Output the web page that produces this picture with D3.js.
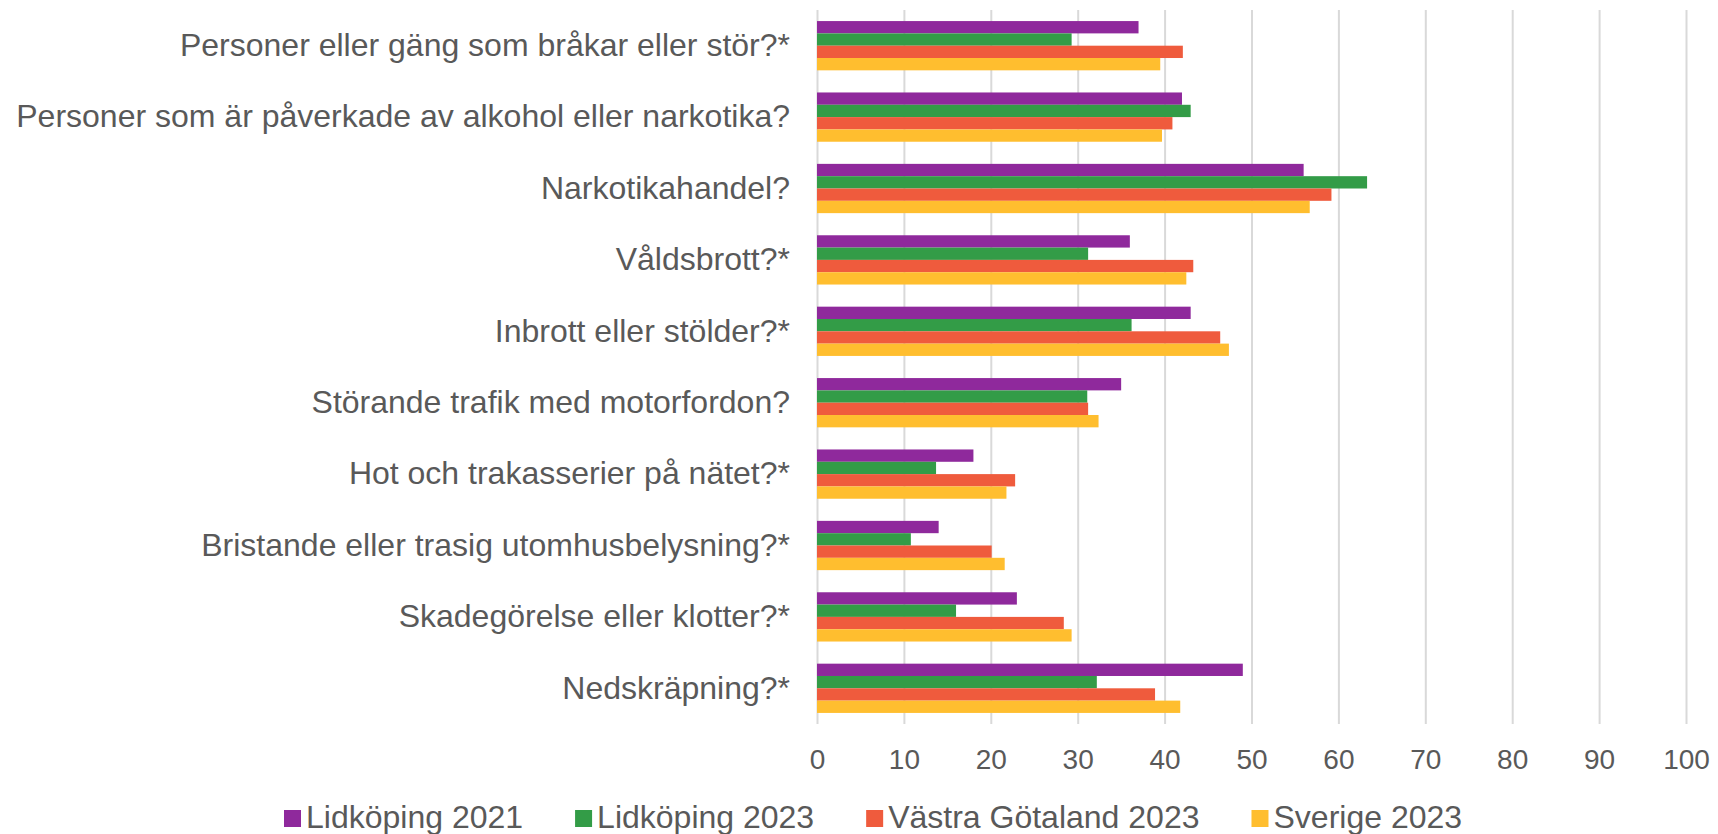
<!DOCTYPE html>
<html>
<head>
<meta charset="utf-8">
<script src="https://cdn.jsdelivr.net/npm/d3@7"></script>
<style>
  body { margin: 0; background: #fff; }
  text { font-family: "Liberation Sans", Arial, sans-serif; fill: #595959; }
</style>
</head>
<body>
<script>
    let categories = [
      "Personer eller gäng som bråkar eller stör?*",
      "Personer som är påverkade av alkohol eller narkotika?",
      "Narkotikahandel?",
      "Våldsbrott?*",
      "Inbrott eller stölder?*",
      "Störande trafik med motorfordon?",
      "Hot och trakasserier på nätet?*",
      "Bristande eller trasig utomhusbelysning?*",
      "Skadegörelse eller klotter?*",
      "Nedskräpning?*"
    ];
    let seriesNames = ["Lidköping 2021", "Lidköping 2023", "Västra Götaland 2023", "Sverige 2023"];
    let lidkoping2021 = [37, 42, 56, 36, 43, 35, 18, 14, 23, 49];
    let lidkoping2023 = [29.3, 43.0, 63.3, 31.2, 36.2, 31.1, 13.7, 10.8, 16.0, 32.2];
    let vastraGotaland2023 = [42.1, 40.9, 59.2, 43.3, 46.4, 31.2, 22.8, 20.1, 28.4, 38.9];
    let sverige2023 = [39.5, 39.7, 56.7, 42.5, 47.4, 32.4, 21.8, 21.6, 29.3, 41.8];
    let xTicks = [0, 10, 20, 30, 40, 50, 60, 70, 80, 90, 100];

    let colors = ["#8f299c", "#339c47", "#ef5b3d", "#ffbe2f"];
    let seriesValues = [lidkoping2021, lidkoping2023, vastraGotaland2023, sverige2023];

    let width = 1718, height = 834;
    let plot = {"left": 817, "right": 1686, "top": 10, "bottom": 724};

    // one row per category, one value per series
    let data = categories.map((c, i) => ({
      category: c,
      values: seriesNames.map((s, j) => ({series: s, value: seriesValues[j][i]}))
    }));

    const svg = d3.select("body")
      .append("svg")
      .attr("width", width)
      .attr("height", height);

    let xscale = d3.scaleLinear()
      .domain([0, 100])
      .range([plot.left, plot.right]);

    let yscale = d3.scaleBand()
      .domain(categories)
      .range([plot.top, plot.bottom])
      .paddingInner(0.31)
      .paddingOuter(0.155);

    let inner = d3.scaleBand()
      .domain(seriesNames)
      .range([0, yscale.bandwidth()]);

    let color = d3.scaleOrdinal()
      .domain(seriesNames)
      .range(colors);

    // x axis with gridlines
    let x_axis = d3.axisBottom()
      .scale(xscale)
      .tickValues(xTicks)
      .tickSize(-(plot.bottom - plot.top))
      .tickPadding(25);

    let gx = svg.append("g")
      .attr("transform", "translate(0," + plot.bottom + ")")
      .call(x_axis);
    gx.select(".domain").remove();
    gx.selectAll(".tick line")
      .attr("stroke", "#d9d9d9")
      .attr("stroke-width", 2);
    gx.selectAll(".tick text")
      .style("font-size", "28px")
      .style("font-family", "Liberation Sans, Arial, sans-serif")
      .attr("fill", "#595959");

    // category labels
    let y_axis = d3.axisLeft()
      .scale(yscale)
      .tickSize(0)
      .tickPadding(27);

    let gy = svg.append("g")
      .attr("transform", "translate(" + plot.left + ",0)")
      .call(y_axis);
    gy.select(".domain").remove();
    gy.selectAll(".tick text")
      .style("font-size", "32px")
      .style("font-family", "Liberation Sans, Arial, sans-serif")
      .attr("fill", "#595959");

    // bars
    let groups = svg.append("g")
      .selectAll("g")
      .data(data)
      .enter()
      .append("g")
      .attr("transform", (d) => "translate(0," + yscale(d.category) + ")");

    groups.selectAll("rect")
      .data((d) => d.values)
      .enter()
      .append("rect")
      .attr("x", xscale(0))
      .attr("y", (d) => inner(d.series))
      .attr("width", (d) => xscale(d.value) - xscale(0))
      .attr("height", inner.bandwidth())
      .style("fill", (d) => color(d.series));

    // legend
    let legend = svg.append("g")
      .attr("transform", "translate(284, 810)");

    let lx = 0;
    seriesNames.forEach((s) => {
      let item = legend.append("g")
        .attr("transform", "translate(" + lx + ",0)");
      item.append("rect")
        .attr("width", 17)
        .attr("height", 17)
        .style("fill", color(s));
      let t = item.append("text")
        .text(s)
        .attr("x", 22)
        .attr("y", 18)
        .style("font-size", "32px");
      lx += 22 + t.node().getComputedTextLength() + 52;
    });
</script>
</body>
</html>
